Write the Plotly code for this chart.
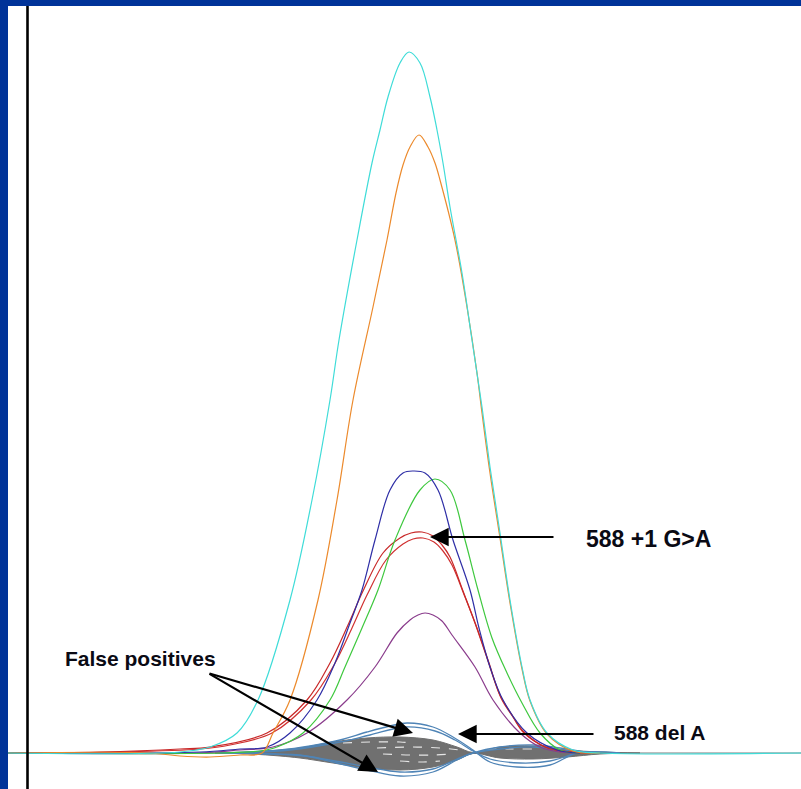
import plotly.graph_objects as go

# ---- data (x: melting position units, y: normalised difference signal) ----
cyan_x = [8, 180, 210, 237, 258, 290, 312, 330, 339, 357, 372, 380, 388, 400, 409, 420, 430, 437, 443, 450, 462, 472, 482, 490, 500, 510, 522, 530, 547, 573, 600, 801]
cyan_y = [0, 1, 6, 20, 53, 153, 253, 353, 413, 513, 590, 623, 656, 690, 701, 690, 656, 623, 590, 546, 480, 413, 346, 286, 220, 153, 86, 53, 20, 3, 0, 0]

orange_x = [8, 150, 180, 210, 240, 262, 273, 290, 318, 337, 353, 373, 387, 396, 403, 410, 419, 428, 435, 440, 455, 467, 477, 482, 490, 500, 510, 522, 530, 547, 573, 600]
orange_y = [0, 0, -3, -4, -2, 0, 20, 53, 153, 253, 353, 446, 513, 560, 588, 606, 618, 606, 590, 573, 513, 446, 380, 340, 280, 215, 150, 84, 52, 19, 2, 0]

blue_x = [8, 200, 240, 267, 290, 317, 335, 350, 362, 375, 390, 403, 413, 425, 438, 453, 470, 479, 490, 503, 527, 557, 580]
blue_y = [0, 1, 4, 6, 20, 53, 90, 130, 163, 213, 263, 280, 282, 280, 263, 213, 163, 125, 86, 53, 20, 3, 0]

green_x = [8, 220, 260, 277, 303, 330, 345, 362, 378, 395, 420, 435, 450, 465, 478, 492, 507, 522, 540, 560, 580]
green_y = [0, 0, 2, 6, 20, 53, 86, 125, 163, 213, 263, 274, 263, 213, 163, 115, 80, 50, 20, 3, 0]

red1_x = [8, 100, 180, 210, 267, 307, 330, 348, 363, 383, 400, 411, 422, 433, 442, 450, 463, 475, 487, 500, 512, 523, 545, 570, 590]
red1_y = [0, 1, 4, 6, 20, 53, 90, 128, 162, 200, 215, 220, 221, 217, 208, 196, 162, 130, 95, 58, 38, 22, 6, 1, 0]

red2_x = [8, 120, 200, 230, 272, 311, 334, 352, 367, 386, 403, 413, 423, 434, 443, 452, 465, 477, 489, 501, 513, 524, 548, 572, 590]
red2_y = [0, 1, 4, 8, 20, 53, 88, 125, 158, 193, 209, 214, 215, 211, 202, 188, 156, 125, 90, 55, 36, 20, 5, 1, 0]

purple_x = [8, 200, 240, 273, 307, 347, 375, 397, 410, 418, 425, 433, 442, 452, 475, 493, 520, 540, 560, 580]
purple_y = [0, 0, 3, 6, 20, 53, 86, 120, 133, 138, 140, 138, 132, 118, 86, 53, 20, 6, 1, 0]

band_x = [215, 250, 280, 300, 333, 367, 400, 433, 457, 473, 500, 533, 567, 600, 640]
band_upper = [0, 1, 3, 5, 11, 15, 16, 13, 6, 0.5, 6, 7, 3, 1, 0]
band_lower = [0, -1, -3, -5, -10, -15, -17, -14, -7, -0.5, -5, -6, -4, -1, 0]

steel1_x = [220, 280, 310, 340, 367, 390, 407, 433, 453, 473, 490, 517, 550, 577, 620]
steel1_y = [0, 3, 7, 13, 21, 27, 30, 26, 16, 3, -9, -14, -12, 0, 0]
steel2_x = [230, 290, 340, 370, 405, 435, 455, 473, 490, 520, 550, 575]
steel2_y = [0, 3, 11, 18, 26, 22, 13, 2, -6, -10, -8, 0]
steel3_x = [220, 270, 300, 333, 367, 400, 433, 457, 473, 500, 533, 560, 590]
steel3_y = [0, -1, -2, -9, -17, -23, -19, -7, 0, 6, 8, 5, 0]
steel4_x = [230, 275, 305, 335, 367, 400, 433, 457, 473, 500, 533, 560, 590]
steel4_y = [0, -1, -3, -8, -14, -19, -16, -6, 0, 4, 6, 3, 0]

streak_x = [[343, 370, 400, 410], [377, 410, 440, 460], [383, 410, 435, 450], [400, 420, 440], [487, 510, 533]]
streak_y = [[10, 11, 11, 10], [5, 6, 5, 3], [-1, -2, -2, -1], [-8, -9, -8], [4, 4, 4]]

fig = go.Figure()

# gray band of negative samples
fig.add_trace(go.Scatter(x=band_x, y=band_lower, mode="lines", line=dict(color="#6f6f6f", width=1, shape="spline"), hoverinfo="skip"))
fig.add_trace(go.Scatter(x=band_x, y=band_upper, mode="lines", fill="tonexty", fillcolor="#707070",
                         line=dict(color="#6f6f6f", width=1, shape="spline"), hoverinfo="skip"))
for sx, sy in zip(streak_x, streak_y):
    fig.add_trace(go.Scatter(x=sx, y=sy, mode="lines", line=dict(color="#e6e6e6", width=1.2, shape="spline", dash="dash"), hoverinfo="skip"))

for sx, sy in [(steel1_x, steel1_y), (steel2_x, steel2_y), (steel3_x, steel3_y), (steel4_x, steel4_y)]:
    fig.add_trace(go.Scatter(x=sx, y=sy, mode="lines", line=dict(color="#4f84b6", width=1.3, shape="spline"), hoverinfo="skip"))

curves = [
    (purple_x, purple_y, "#8a3c8c"),
    (red2_x, red2_y, "#d03030"),
    (red1_x, red1_y, "#c82828"),
    (green_x, green_y, "#3ec83e"),
    (blue_x, blue_y, "#2e2ea6"),
    (orange_x, orange_y, "#ec8a2c"),
    (cyan_x, cyan_y, "#3fdcd8"),
]
for cx, cy, col in curves:
    fig.add_trace(go.Scatter(x=cx, y=cy, mode="lines", line=dict(color=col, width=1.2, shape="spline", smoothing=1.0), hoverinfo="skip"))

font = dict(family="Liberation Sans, Arial, sans-serif", size=21, color="#0a0a14", weight="bold")
font_big = dict(font, size=23)

annotations = [
    dict(x=430, y=216, ax=555, ay=216),
    dict(x=458, y=19, ax=595, ay=19),
    dict(x=413, y=20, ax=208, ay=80),
    dict(x=378, y=-19, ax=208, ay=80),
]
ann = []
for a in annotations:
    ann.append(dict(x=a["x"], y=a["y"], ax=a["ax"], ay=a["ay"], xref="x", yref="y", axref="x", ayref="y",
                    text=" ", showarrow=True, arrowhead=2, arrowsize=1.7, arrowwidth=2.2, arrowcolor="#000000",
                    font=dict(size=1), standoff=0, startstandoff=0))
ann.append(dict(x=584, y=214, xref="x", yref="y", text="588 +1 G>A", showarrow=False, xanchor="left", yanchor="middle", font=font_big))
ann.append(dict(x=612, y=21, xref="x", yref="y", text="588 del A", showarrow=False, xanchor="left", yanchor="middle", font=font))
ann.append(dict(x=63, y=95, xref="x", yref="y", text="False positives", showarrow=False, xanchor="left", yanchor="middle", font=font))

shapes = [
    dict(type="line", xref="x", yref="y", x0=8, x1=801, y0=0, y1=0, line=dict(color="#7a7a7a", width=1), layer="below"),
    dict(type="line", xref="x", yref="paper", x0=27.5, x1=27.5, y0=0, y1=1, line=dict(color="#000000", width=2.6)),
]

fig.update_layout(
    width=801, height=789,
    margin=dict(l=8, r=0, t=6, b=0),
    paper_bgcolor="#003399", plot_bgcolor="#ffffff",
    showlegend=False,
    xaxis=dict(range=[8, 801], visible=False, fixedrange=True),
    yaxis=dict(range=[-36, 747], visible=False, fixedrange=True),
    annotations=ann, shapes=shapes,
)

fig.write_html("out.html")
